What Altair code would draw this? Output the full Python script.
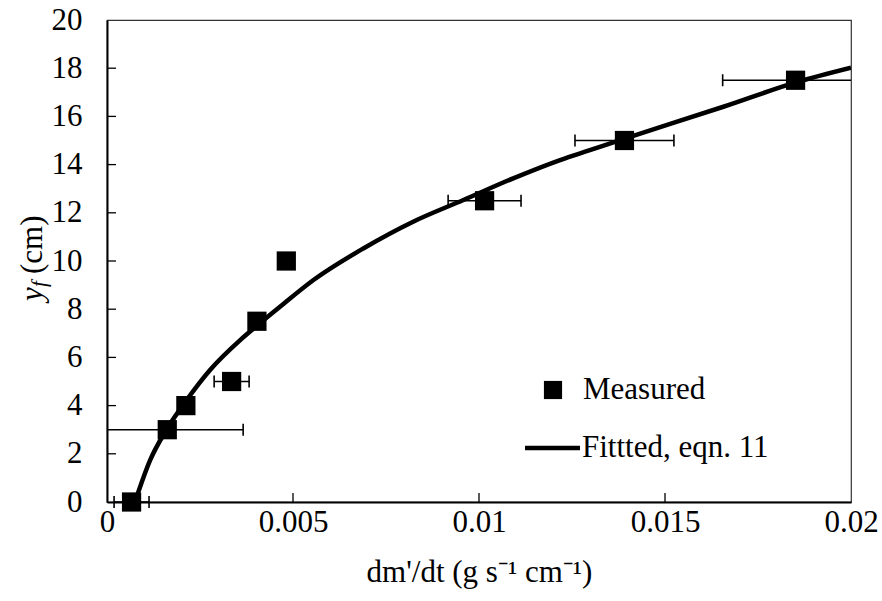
import altair as alt
import pandas as pd

# ---- data ----
meas_x = [0.00066, 0.00162, 0.00212, 0.00335, 0.00403, 0.00482, 0.01015, 0.01391, 0.01851]
meas_y = [0, 3, 4, 5, 7.5, 10, 12.5, 15, 17.5]
meas_xerr = [0.00047, 0.00204, 0, 0.00047, 0, 0, 0.00098, 0.00133, 0.00196]

fit_x = [0.00075, 0.00116, 0.0016, 0.00214, 0.00277, 0.00358, 0.00402, 0.00465, 0.00555,
         0.00689, 0.00823, 0.00958, 0.01092, 0.01218, 0.01298, 0.01392, 0.01657, 0.01854, 0.02]
fit_y = [0, 1.74, 3.0, 4.23, 5.48, 6.72, 7.3, 8.10, 9.21,
         10.52, 11.63, 12.53, 13.43, 14.19, 14.6, 15.08, 16.4, 17.42, 18.02]

x_ticks = [0, 0.005, 0.01, 0.015, 0.02]
y_ticks = [0, 2, 4, 6, 8, 10, 12, 14, 16, 18, 20]

x_title = "dm'/dt (g s\u207b\u00b9 cm\u207b\u00b9)"
legend_labels = ["Measured", "Fittted, eqn. 11"]

FONT = "Liberation Serif"
FS = 31
W, H = 744, 482

meas = pd.DataFrame({"x": meas_x, "y": meas_y, "e": meas_xerr})
meas["lo"] = meas["x"] - meas["e"]
meas["hi"] = meas["x"] + meas["e"]
err = meas[meas["e"] > 0]
fit = pd.DataFrame({"x": fit_x, "y": fit_y})

xs = alt.Scale(domain=[0, 0.02], nice=False, zero=False)
ys = alt.Scale(domain=[0, 20], nice=False, zero=False)

x_axis = alt.Axis(values=x_ticks, format="~g", title=x_title, grid=False, tickSize=0,
                  labelFont=FONT, labelFontSize=FS, labelColor="#000", labelPadding=5,
                  titleFont=FONT, titleFontSize=FS, titleFontWeight="normal", titleColor="#000",
                  titlePadding=20, domainColor="#000", domainWidth=2, labelFlush=False)
y_axis = alt.Axis(values=y_ticks, title="", grid=False, tickSize=0,
                  labelFont=FONT, labelFontSize=FS, labelColor="#000", labelPadding=25,
                  domainColor="#000", domainWidth=2, labelFlush=False)


def X(f):
    return alt.X(f"{f}:Q", scale=xs, axis=x_axis)


def Y(f):
    return alt.Y(f"{f}:Q", scale=ys, axis=y_axis)


bars = alt.Chart(err).mark_rule(color="#000", strokeWidth=1.6, clip=True).encode(
    x=X("lo"), x2="hi", y=Y("y"))
cap_lo = alt.Chart(err).transform_filter("datum.lo >= 0").mark_point(
    shape="M0,-1L0,1", size=144, strokeWidth=1.6, color="#000", filled=False, opacity=1
).encode(x=X("lo"), y=Y("y"))
cap_hi = alt.Chart(err).transform_filter("datum.hi <= 0.02").mark_point(
    shape="M0,-1L0,1", size=144, strokeWidth=1.6, color="#000", filled=False, opacity=1
).encode(x=X("hi"), y=Y("y"))

line = alt.Chart(fit).mark_line(color="#000", strokeWidth=4.5, clip=True,
                                interpolate="monotone").encode(
    x=X("x"), y=Y("y"), order="x:Q")
pts = alt.Chart(meas).mark_point(shape="square", size=370, filled=True, color="#000",
                                 opacity=1).encode(x=X("x"), y=Y("y"))

# inward tick marks
ytk = alt.Chart(pd.DataFrame({"v": y_ticks[1:-1]})).mark_rule(color="#000", strokeWidth=1.3).encode(
    y=Y("v"), x=alt.value(0), x2=alt.value(9))
xtk = alt.Chart(pd.DataFrame({"v": x_ticks[1:-1]})).mark_rule(color="#000", strokeWidth=1.3).encode(
    x=X("v"), y=alt.value(H), y2=alt.value(H - 9))

# y-axis title: italic y, subscript italic f, then (cm)
one = pd.DataFrame({"a": [0]})
yt_y = alt.Chart(one).mark_text(text="y", font=FONT, fontStyle="italic", fontSize=FS, angle=270,
                                align="left", baseline="middle", color="#000").encode(
    x=alt.value(-74), y=alt.value(281))
yt_f = alt.Chart(one).mark_text(text="f", font=FONT, fontStyle="italic", fontSize=21, angle=270,
                                align="left", baseline="middle", color="#000").encode(
    x=alt.value(-67), y=alt.value(267))
yt_cm = alt.Chart(one).mark_text(text="(cm)", font=FONT, fontSize=FS, angle=270,
                                 align="left", baseline="middle", color="#000").encode(
    x=alt.value(-74), y=alt.value(254))

# legend
lg_sq = alt.Chart(one).mark_point(shape="square", size=330, filled=True, color="#000",
                                  opacity=1).encode(x=alt.value(446), y=alt.value(370))
lg_t1 = alt.Chart(one).mark_text(text=legend_labels[0], font=FONT, fontSize=FS, align="left",
                                 baseline="middle", color="#000").encode(
    x=alt.value(476), y=alt.value(370))
lg_ln = alt.Chart(one).mark_rule(color="#000", strokeWidth=4.5).encode(
    x=alt.value(418), x2=alt.value(473), y=alt.value(428))
lg_t2 = alt.Chart(one).mark_text(text=legend_labels[1], font=FONT, fontSize=FS, align="left",
                                 baseline="middle", color="#000").encode(
    x=alt.value(475), y=alt.value(428))

chart = alt.layer(
    bars, cap_lo, cap_hi, line, pts, ytk, xtk, yt_y, yt_f, yt_cm, lg_sq, lg_t1, lg_ln, lg_t2
).properties(
    width=W, height=H,
    autosize=alt.AutoSizeParams(type="none"),
    padding={"left": 107, "top": 20, "right": 31, "bottom": 99},
    background="white",
).configure_view(stroke="#333", strokeWidth=1.2)

chart.save("out.html", embed_options={"renderer": "svg", "actions": False})
